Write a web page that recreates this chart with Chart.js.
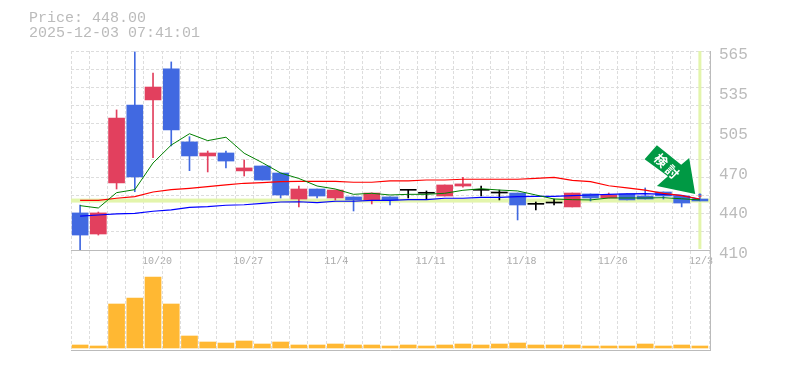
<!DOCTYPE html>
<html lang="ja">
<head>
<meta charset="utf-8">
<title>Price chart</title>
<script src="https://cdn.jsdelivr.net/npm/chart.js@4/dist/chart.umd.min.js"></script>
<style>
    html, body { margin: 0; padding: 0; background: #fff; overflow: hidden; }
    #wrap { position: relative; width: 785px; height: 370px; }
    canvas { position: absolute; left: 0; top: 0; }
    .info { position: absolute; left: 29px; color: #bbb; font: 15px/15px "Liberation Mono", monospace; white-space: pre; }
</style>
</head>
<body>
<div id="wrap">
    <canvas id="chart-price" width="785" height="370"></canvas>
    <canvas id="chart-vol" width="785" height="370"></canvas>
    <div class="info" style="top:11px">Price: 448.00</div>
    <div class="info" style="top:26px">2025-12-03 07:41:01</div>
</div>
<script>
const dates = ['10/14','10/15','10/16','10/17','10/20','10/21','10/22','10/23','10/24','10/27','10/28','10/29','10/30','10/31','11/4','11/5','11/6','11/7','11/10','11/11','11/12','11/13','11/14','11/17','11/18','11/19','11/20','11/21','11/25','11/26','11/27','11/28','12/1','12/2','12/3'];
const tickDates = ['10/20','10/27','11/4','11/11','11/18','11/26','12/3'];
const priceLabels = ['410','440','470','505','535','565'];

const opens  = [438.5,422.3,461.5,521.5,525.4,549.2,493.1,482.3,484.6,470.8,474.6,469.2,449.2,456.9,450,450.8,448.5,450.8,455.9,453.6,451.5,459.2,455.9,453.8,453.8,445.1,446.1,443.1,453.1,450,453.1,451.5,454.6,451.5,449.2];
const closes = [421.5,438.5,511.5,466.1,535.3,502.3,482.3,484.6,478.4,473.1,463.8,452.3,456.9,451.5,456.1,448.5,453.8,448.5,455.9,453.6,460,460.8,455.9,453.8,444.6,445.1,446.1,453.8,450,452.3,448.5,449.2,451.5,446.1,447.7];
const highs  = [444.6,439.2,517.7,562.3,546.1,554.6,497.1,486.1,486.1,479.2,474.6,469.2,459.2,456.9,456.1,450.8,453.8,450.8,455.9,455.4,460,465.9,459.2,456.1,453.8,446.9,449.2,453.8,453.1,453.8,453.1,457.7,454.6,451.5,453.1];
const lows   = [410,421.5,456.9,454.8,481,490,471,470,473.1,466.9,463.8,450,443.1,450,448.5,440,445.4,444.6,450,449.2,451.5,458.4,451.5,448.5,433.1,440.8,444.6,443.1,447.7,450,448.5,449.2,449.2,443.1,447.7];

const maShort = [444.1,442.3,454.1,456.4,476.9,490.7,499.4,494.1,496.7,484.4,477.1,469.2,465,459.2,456.9,452.8,453.6,452.3,452.8,452.8,453.6,455.9,457.1,456.1,455.4,452.3,449.2,448.7,448.5,450,450,450,450.2,449.4,448.5];
const maMid   = [448.2,448.2,449.8,451,454.6,456.4,457.4,458.7,460,461.3,461.8,462.5,462.8,462.8,462.8,462.1,462.1,463.1,463.1,463.8,463.8,464.4,464.4,464.4,464.4,465.1,465.9,463.6,462.5,459.4,457.7,456.1,453.6,451.8,449.2];
const maLong  = [436.1,436.9,437.7,438.2,439.8,440.8,442.8,443.3,444.4,444.8,445.9,446.9,447.1,446.4,447.5,447.5,448.2,448.2,448.7,448.7,449.8,449.8,450.5,450.5,451,451.3,451.3,451.8,452.3,452.8,453.1,453.3,452.8,452.1,448.8];

const volumes = [30,20,440,500,710,440,120,60,50,70,40,60,30,30,40,30,30,20,30,20,30,40,30,40,50,30,30,30,20,20,20,40,20,30,20];

const lastPrice = 448;
const priceMin = 410;
const priceMax = 563;

const UP = '#e2405e';
const DOWN = '#4169e1';
const FLAT = '#000000';
const LIME = '#e3f5ac';
const GREY = '#bbbbbb';
const GRID = '#dddddd';
const GRID_DASH = [3, 2];

function candleColor(i) {
    if (closes[i] > opens[i]) return UP;
    if (closes[i] < opens[i]) return DOWN;
    return FLAT;
}
const candleColors = dates.map((d, i) => candleColor(i));

// faixas do preco atual e do ultimo dia
const bandsPlugin = {
    id: 'bands',
    beforeDatasetsDraw(chart) {
        const { ctx, chartArea: a, scales } = chart;
        const y = scales.y.getPixelForValue(lastPrice);
        const x = scales.x.getPixelForValue(dates.length - 1);
        ctx.save();
        ctx.fillStyle = LIME;
        ctx.fillRect(a.left, y - 2, a.right - a.left + 1, 4);
        ctx.fillRect(x - 1.5, a.top, 3, a.bottom - a.top - 1);
        ctx.restore();
    }
};

// seta verde, posicionada a partir do ultimo candle
const arrowPlugin = {
    id: 'arrow',
    afterDatasetsDraw(chart) {
        const { ctx, scales } = chart;
        const last = dates.length - 1;
        const tx = scales.x.getPixelForValue(last) - 4.7;
        const ty = scales.y.getPixelForValue(highs[last]);
        const shape = [[-50.6, -34.7], [-38.3, -48.7], [-14, -29.3], [-6, -36], [0, 0], [-38.3, -8], [-27.3, -17.7]];
        ctx.save();
        ctx.beginPath();
        shape.forEach((p, i) => {
            if (i === 0) ctx.moveTo(tx + p[0], ty + p[1]);
            else ctx.lineTo(tx + p[0], ty + p[1]);
        });
        ctx.closePath();
        ctx.fillStyle = '#009944';
        ctx.strokeStyle = '#ffffff';
        ctx.lineWidth = 1.5;
        ctx.stroke();
        ctx.fill();

        ctx.translate(tx - 34.2, ty - 33.5);
        ctx.rotate(45 * Math.PI / 180);
        ctx.fillStyle = '#ffffff';
        ctx.font = 'bold 13px "Noto Sans CJK JP"';
        ctx.textAlign = 'center';
        ctx.textBaseline = 'middle';
        ctx.fillText('検', 0, 0);
        ctx.fillText('討', 16, 0);
        ctx.restore();

        // marca pequena no topo do ultimo candle
        const mx = scales.x.getPixelForValue(last);
        ctx.fillStyle = DOWN;
        ctx.fillRect(mx - 1.5, ty, 3, 1.5);
        ctx.fillStyle = UP;
        ctx.fillRect(mx - 1.5, ty + 1.5, 3, 1.5);
    }
};

// moldura: a borda direita fica um pouco depois da ultima linha da grade
const framePlugin = {
    id: 'frame',
    afterDraw(chart) {
        const { ctx, chartArea: a } = chart;
        ctx.save();
        ctx.strokeStyle = GREY;
        ctx.lineWidth = 1;
        ctx.beginPath();
        ctx.moveTo(a.right + 1.5, a.top);
        ctx.lineTo(a.right + 1.5, a.bottom + 0.5);
        ctx.moveTo(a.right, a.bottom + 0.5);
        ctx.lineTo(a.right + 2, a.bottom + 0.5);
        ctx.stroke();
        ctx.restore();
    }
};

function maDataset(data, color, width) {
    return {
        type: 'line',
        data: data,
        borderColor: color,
        borderWidth: width,
        pointRadius: 0,
        tension: 0,
        fill: false,
        order: 1
    };
}

new Chart(document.getElementById('chart-price'), {
    type: 'bar',
    data: {
        labels: dates,
        datasets: [
            maDataset(maShort, '#008000', 1),
            maDataset(maMid, '#ff0000', 1.2),
            maDataset(maLong, '#0000ff', 1.2),
            {
                data: dates.map((d, i) => [opens[i], closes[i]]),
                backgroundColor: candleColors,
                barThickness: 16,
                minBarLength: 1,
                grouped: false,
                order: 2
            },
            {
                data: dates.map((d, i) => [lows[i], highs[i]]),
                backgroundColor: candleColors,
                barThickness: 1,
                grouped: false,
                order: 3
            }
        ]
    },
    plugins: [bandsPlugin, arrowPlugin, framePlugin],
    options: {
        responsive: false,
        animation: false,
        layout: { padding: { top: 51, left: 0, right: 0, bottom: 0 } },
        plugins: { legend: { display: false }, title: { display: false }, tooltip: { enabled: false } },
        scales: {
            x: {
                type: 'category',
                offset: true,
                afterFit(scale) { scale.height = 120; },
                border: { color: GREY, width: 1, dash: GRID_DASH },
                grid: { color: GRID, offset: true, drawTicks: false },
                ticks: {
                    autoSkip: false,
                    maxRotation: 0,
                    minRotation: 0,
                    align: 'start',
                    labelOffset: -11,
                    padding: 5,
                    color: '#aaaaaa',
                    font: { family: '"Liberation Mono", monospace', size: 10 },
                    callback(value) {
                        const label = this.getLabelForValue(value);
                        return tickDates.includes(label) ? label : '';
                    }
                }
            },
            y: {
                position: 'left',
                min: priceMin,
                max: priceMax,
                afterFit(scale) { scale.width = 71; },
                afterBuildTicks(scale) {
                    const t = [];
                    for (let i = 0; i <= 11; i++) t.push({ value: priceMin + i * (priceMax - priceMin) / 11 });
                    scale.ticks = t;
                },
                border: { display: false, dash: GRID_DASH },
                grid: { color: GRID, drawTicks: false },
                ticks: { display: false }
            },
            yLabels: {
                position: 'right',
                min: priceMin,
                max: priceMax,
                afterFit(scale) { scale.width = 76; },
                afterBuildTicks(scale) {
                    scale.ticks = priceLabels.map((l, i) => ({ value: priceMin + i * (priceMax - priceMin) / (priceLabels.length - 1) }));
                },
                border: { display: false },
                grid: { display: false, drawTicks: false },
                ticks: {
                    padding: 10,
                    labelOffset: 4,
                    color: GREY,
                    font: { family: '"Liberation Mono", monospace', size: 16 },
                    callback(value, index) { return priceLabels[index]; }
                }
            }
        }
    }
});

new Chart(document.getElementById('chart-vol'), {
    type: 'bar',
    data: {
        labels: dates,
        datasets: [{
            data: volumes,
            backgroundColor: '#ffb833',
            barThickness: 16
        }]
    },
    plugins: [framePlugin],
    options: {
        responsive: false,
        animation: false,
        layout: { padding: { top: 251, left: 71, right: 0, bottom: 0 } },
        plugins: { legend: { display: false }, title: { display: false }, tooltip: { enabled: false } },
        scales: {
            x: {
                type: 'category',
                offset: true,
                afterFit(scale) { scale.height = 20; },
                border: { color: GREY, width: 1, dash: GRID_DASH },
                grid: { color: GRID, offset: true, drawTicks: false },
                ticks: { display: false }
            },
            y: {
                position: 'right',
                min: -20,
                max: 970,
                afterFit(scale) { scale.width = 76; },
                border: { display: false },
                grid: { display: false, drawTicks: false },
                ticks: { display: false }
            }
        }
    }
});
</script>
</body>
</html>
